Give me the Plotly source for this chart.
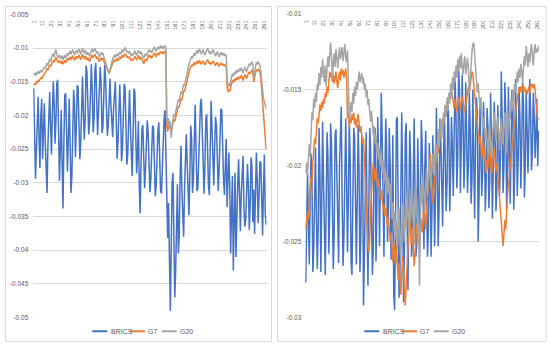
import plotly.graph_objects as go

# ---------------- data (values in thousandths, i.e. -14.0 means -0.0140) ----------------
CATEGORIES = list(range(1, 264))
X_TICK_VALUES = [1, 11, 21, 31, 41, 51, 61, 71, 81, 91, 101, 111, 121, 131, 141, 151,
                 161, 171, 181, 191, 201, 211, 221, 231, 241, 251, 261]
X_TICK_LABELS = [str(v) for v in X_TICK_VALUES]

LEFT_Y_TICKS = [-0.05, -0.045, -0.04, -0.035, -0.03, -0.025, -0.02, -0.015, -0.01, -0.005]
LEFT_Y_LABELS = ["-0.05", "-0.045", "-0.04", "-0.035", "-0.03", "-0.025", "-0.02", "-0.015", "-0.01", "-0.005"]
RIGHT_Y_TICKS = [-0.03, -0.025, -0.02, -0.015, -0.01]
RIGHT_Y_LABELS = ["-0.03", "-0.025", "-0.02", "-0.015", "-0.01"]

SERIES_NAMES = ["BRICS", "G7", "G20"]
SERIES_COLORS = ["#4472C4", "#ED7D31", "#A5A5A5"]

LEFT_BRICS = [
    -16.0, -21.0, -29.4, -25.0, -18.5, -17.2, -23.5, -27.8, -20.0, -17.5,
    -26.5, -22.0, -18.2, -24.0, -29.0, -31.5, -24.5, -19.0, -16.5, -21.5,
    -25.8, -20.0, -14.9, -18.0, -24.2, -21.0, -15.2, -14.7, -20.5, -29.7,
    -25.0, -19.2, -27.0, -33.8, -24.0, -17.0, -16.7, -22.5, -28.3, -23.5,
    -17.5, -24.0, -31.5, -29.0, -21.5, -16.2, -18.5, -26.2, -22.0, -15.5,
    -15.8, -21.4, -26.5, -24.0, -17.0, -14.2, -19.5, -23.6, -20.5, -12.6,
    -13.5, -18.0, -22.8, -21.0, -15.0, -12.4, -16.5, -22.5, -20.6, -13.2,
    -12.2, -17.8, -22.9, -19.5, -14.5, -12.8, -15.5, -22.6, -21.7, -16.0,
    -12.5, -14.6, -19.8, -23.0, -21.5, -17.2, -14.5, -18.4, -22.4, -23.2,
    -19.0, -15.8, -15.0, -20.5, -26.4, -24.0, -18.5, -15.4, -19.7, -26.8,
    -25.0, -18.0, -15.3, -15.9, -22.0, -27.3, -25.8, -20.5, -16.2, -21.6,
    -26.9, -29.0, -23.0, -16.0, -16.5, -24.2, -28.6, -26.0, -20.8, -30.5,
    -34.5, -27.0, -22.0, -21.4, -25.2, -30.8, -28.0, -23.5, -20.7, -22.6,
    -27.6, -31.4, -29.5, -24.0, -21.5, -21.8, -26.5, -32.0, -30.5, -25.8,
    -22.3, -21.0, -26.0, -31.2, -31.6, -27.5, -22.0, -20.4, -19.2, -24.8,
    -30.5, -38.2, -33.0, -44.5, -49.0, -40.0, -30.0, -28.5, -36.0, -47.0,
    -43.0, -35.0, -30.2, -40.5, -38.0, -29.5, -24.5, -31.0, -35.8, -38.0,
    -31.0, -24.5, -22.8, -27.0, -33.2, -34.8, -29.0, -21.5, -23.5, -31.5,
    -29.5, -22.0, -18.4, -24.6, -31.2, -30.8, -25.0, -20.5, -18.2, -17.5,
    -23.0, -28.0, -31.6, -27.5, -20.5, -19.8, -25.4, -30.5, -31.8, -26.0,
    -17.8, -22.0, -27.8, -30.4, -24.5, -20.2, -21.5, -28.6, -31.2, -28.0,
    -22.4, -19.0, -19.2, -26.0, -29.5, -31.8, -27.0, -23.5, -33.6, -28.8,
    -25.5, -30.5, -40.5, -34.2, -29.0, -43.0, -36.5, -28.5, -41.0, -33.5,
    -30.0, -26.5, -34.8, -37.2, -31.5, -28.0, -26.0, -33.8, -36.5, -35.5,
    -29.0, -27.2, -30.5, -37.0, -33.5, -26.2, -27.5, -35.8, -31.0, -37.6,
    -31.5, -25.5, -29.8, -36.0, -32.0, -26.8, -27.0, -35.2, -37.8, -31.0,
    -25.8, -34.5, -36.2,
]
LEFT_G7 = [
    -15.5, -15.3, -15.4, -15.0, -15.1, -14.8, -14.9, -14.6, -14.4, -14.5,
    -14.3, -14.1, -13.9, -13.8, -13.4, -13.1, -13.2, -12.8, -12.5, -12.7,
    -12.3, -12.0, -11.8, -12.1, -11.6, -11.3, -11.7, -12.0, -12.2, -11.8,
    -12.0, -12.3, -11.9, -12.4, -12.1, -11.8, -12.2, -11.9, -11.5, -11.8,
    -11.6, -11.3, -11.7, -11.4, -11.1, -11.5, -11.8, -11.4, -11.2, -11.6,
    -11.3, -11.0, -11.4, -11.7, -11.3, -10.9, -11.3, -11.6, -11.2, -11.5,
    -11.8, -11.4, -11.7, -12.0, -11.6, -11.2, -11.0, -11.4, -11.1, -10.9,
    -11.2, -11.6, -11.3, -11.7, -12.0, -11.7, -11.4, -11.8, -11.5, -11.9,
    -12.2, -12.5, -12.9, -13.3, -13.6, -13.8, -13.4, -12.9, -12.5, -12.2,
    -12.0, -11.7, -12.0, -11.8, -11.5, -11.9, -11.6, -11.3, -11.6, -11.3,
    -11.0, -11.4, -11.1, -10.8, -11.0, -11.4, -11.2, -11.5, -11.3, -11.6,
    -11.9, -11.6, -11.8, -11.5, -11.2, -11.5, -11.8, -11.5, -11.1, -11.4,
    -11.7, -11.3, -11.6, -12.0, -12.3, -11.9, -11.6, -11.9, -11.7, -11.3,
    -11.0, -11.4, -11.1, -11.5, -11.2, -10.9, -10.7, -11.0, -11.3, -10.9,
    -10.7, -11.0, -10.7, -10.5, -10.8, -10.5, -10.9, -10.6, -10.4, -10.7,
    -21.5, -22.4, -21.3, -22.0, -21.6, -22.2, -21.8, -21.0, -20.6, -20.9,
    -20.3, -19.7, -19.1, -18.6, -18.8, -18.1, -17.5, -17.7, -16.9, -16.3,
    -16.5, -15.8, -15.2, -14.7, -14.1, -13.6, -13.1, -12.8, -12.5, -12.7,
    -12.4, -12.1, -12.5, -12.2, -11.9, -12.3, -12.0, -11.8, -12.2, -12.4,
    -12.1, -11.9, -12.2, -12.5, -12.2, -11.9, -11.7, -12.0, -12.3, -12.1,
    -12.4, -12.2, -11.9, -12.1, -12.4, -12.6, -12.3, -12.1, -12.4, -12.7,
    -12.4, -12.2, -12.5, -12.3, -12.6, -12.4, -12.7, -12.5, -15.6, -16.5,
    -16.2, -16.4, -15.8, -15.3, -14.8, -15.1, -14.6, -14.9, -14.4, -14.7,
    -14.3, -14.6, -14.2, -14.5, -14.0, -14.4, -14.8, -14.3, -13.9, -14.2,
    -14.5, -14.1, -13.8, -13.5, -13.8, -13.4, -13.2, -13.5, -15.0, -14.3,
    -13.5, -13.2, -13.4, -13.1, -13.3, -13.6, -14.5, -16.5, -18.5, -20.6,
    -22.4, -23.8, -25.0,
]
LEFT_G20 = [
    -14.0, -13.7, -14.1, -13.6, -13.9, -13.4, -13.8, -13.5, -13.3, -13.6,
    -13.4, -13.1, -12.8, -13.0, -12.5, -12.2, -12.6, -11.9, -11.6, -12.0,
    -11.4, -11.0, -10.8, -11.3, -10.6, -10.2, -10.9, -11.2, -11.5, -11.0,
    -11.3, -11.6, -11.1, -11.8, -11.4, -11.0, -11.5, -11.2, -10.7, -11.1,
    -10.8, -10.4, -10.9, -10.5, -10.2, -10.7, -11.0, -10.6, -10.3, -10.8,
    -10.5, -10.1, -10.6, -10.9, -10.4, -10.0, -10.5, -10.8, -10.3, -10.7,
    -11.0, -10.6, -10.9, -11.2, -10.8, -10.4, -10.1, -10.6, -10.3, -10.0,
    -10.4, -10.8, -10.5, -10.9, -11.3, -10.9, -10.6, -11.0, -10.7, -11.2,
    -11.6, -11.9, -12.4, -13.0, -13.5, -13.8, -13.2, -12.5, -12.0, -11.6,
    -11.3, -11.0, -11.4, -11.1, -10.8, -11.2, -10.9, -10.6, -10.9, -10.5,
    -10.2, -10.6, -10.3, -9.9, -10.2, -10.6, -10.4, -10.8, -10.5, -10.9,
    -11.2, -10.8, -11.1, -10.7, -10.4, -10.8, -11.1, -10.7, -10.3, -10.6,
    -10.9, -10.5, -10.8, -11.2, -11.5, -11.1, -10.8, -11.2, -10.9, -10.5,
    -10.2, -10.6, -10.3, -10.7, -10.4, -10.1, -9.8, -10.2, -10.5, -10.1,
    -9.8, -10.2, -9.9, -9.6, -10.0, -9.7, -10.1, -9.8, -9.6, -9.9,
    -20.5, -21.2, -20.4, -21.8, -20.9, -23.3, -21.5, -20.6, -19.8, -20.2,
    -19.5, -18.8, -18.2, -17.6, -17.9, -17.1, -16.5, -16.8, -15.9, -15.3,
    -15.6, -14.8, -14.2, -13.6, -13.0, -12.4, -11.9, -11.6, -11.2, -11.5,
    -11.0, -10.7, -11.1, -10.6, -10.3, -10.8, -10.4, -10.1, -10.6, -10.9,
    -10.5, -10.2, -10.7, -11.0, -10.6, -10.3, -10.0, -10.4, -10.8, -10.5,
    -10.9, -10.6, -10.2, -10.5, -10.9, -11.2, -10.8, -10.5, -10.9, -11.3,
    -10.9, -10.6, -11.0, -10.7, -11.1, -10.8, -11.2, -11.0, -14.8, -15.8,
    -15.2, -15.6, -14.9, -14.4, -13.8, -14.2, -13.6, -13.9, -13.3, -13.7,
    -13.2, -13.5, -13.0, -13.4, -12.9, -13.3, -13.7, -13.2, -12.8, -13.1,
    -13.5, -13.0, -12.7, -12.3, -12.6, -12.2, -12.0, -12.4, -14.6, -13.5,
    -12.5, -12.1, -12.4, -12.0, -12.3, -12.6, -13.5, -15.2, -16.8, -17.5,
    -17.9, -18.4, -19.0,
]

RIGHT_BRICS = [
    -27.7, -24.0, -20.5, -23.5, -26.5, -22.0, -19.2, -21.0, -27.0, -25.5,
    -20.0, -18.8, -23.5, -26.8, -24.0, -17.5, -20.5, -27.0, -22.5, -17.1,
    -21.0, -26.2, -27.2, -22.5, -17.8, -19.5, -25.8, -23.0, -17.2, -18.5,
    -22.8, -26.8, -24.5, -18.0, -17.6, -21.5, -25.2, -26.4, -20.0, -16.8,
    -16.1, -22.5, -26.6, -24.5, -18.0, -16.9, -21.2, -25.7, -22.0, -17.0,
    -19.5, -26.3, -27.2, -21.8, -17.5, -18.2, -23.0, -26.5, -22.0, -17.3,
    -20.5, -27.0, -24.5, -18.0, -19.5, -29.2, -26.0, -21.0, -17.8, -23.5,
    -27.9, -22.5, -17.5, -19.0, -24.0, -27.2, -25.5, -18.2, -17.5, -26.3,
    -23.0, -16.8, -19.5, -25.3, -20.5, -15.2, -18.0, -24.0, -26.0, -21.0,
    -16.9, -19.0, -25.0, -22.5, -17.5, -20.0, -26.2, -23.5, -18.0, -28.5,
    -29.5, -24.0, -17.0, -16.8, -22.5, -28.7, -27.0, -19.5, -16.5, -21.0,
    -29.0, -25.5, -18.0, -17.2, -24.0, -28.2, -22.5, -17.7, -19.5, -26.0,
    -25.0, -19.0, -16.9, -22.0, -26.0, -24.8, -18.2, -21.0, -25.7, -23.5,
    -17.0, -18.6, -24.5, -25.5, -20.0, -17.7, -22.5, -26.0, -24.2, -18.5,
    -20.5, -26.0, -23.0, -18.0, -21.5, -25.3, -22.0, -16.2, -19.5, -25.3,
    -23.0, -16.9, -18.5, -22.5, -24.0, -19.5, -16.5, -20.0, -23.0, -21.0,
    -15.5, -17.5, -23.0, -20.5, -16.8, -19.0, -22.0, -18.0, -14.2, -16.5,
    -21.5, -19.5, -13.7, -15.0, -21.8, -18.5, -14.0, -17.0, -21.5, -19.0,
    -14.5, -18.0, -21.8, -20.0, -15.2, -17.5, -22.5, -21.0, -15.0, -19.5,
    -23.5, -18.5, -15.5, -16.5, -25.0, -22.0, -16.0, -19.0, -22.0, -20.5,
    -15.8, -18.0, -23.0, -21.0, -16.2, -17.5, -22.8, -21.0, -15.2, -19.0,
    -23.5, -20.0, -15.8, -17.5, -23.0, -21.5, -16.0, -18.0, -22.0, -19.5,
    -13.8, -17.0, -21.8, -20.0, -14.5, -16.5, -22.9, -21.0, -14.8, -18.5,
    -22.5, -19.0, -15.0, -16.0, -22.9, -20.5, -14.3, -17.5, -22.0, -19.5,
    -14.8, -17.0, -21.5, -18.5, -14.5, -16.0, -22.1, -20.0, -15.0, -17.5,
    -20.5, -18.0, -14.3, -16.5, -20.3, -19.0, -15.2, -16.5, -19.5, -18.0,
    -15.6, -20.0, -17.7,
]
RIGHT_G7 = [
    -24.2, -23.6, -23.0, -23.5, -22.2, -21.5, -20.8, -21.0, -19.8, -19.0,
    -18.2, -18.6, -17.5, -16.9, -17.2, -16.5, -16.0, -16.4, -15.8, -16.2,
    -15.6, -15.9, -15.2, -15.5, -14.8, -15.2, -14.5, -13.8, -14.2, -13.9,
    -14.5, -14.0, -14.6, -14.2, -13.8, -14.5, -14.9, -14.2, -13.8, -14.4,
    -13.6, -14.0, -13.7, -14.2, -13.8, -13.6, -14.4, -16.9, -16.5, -17.5,
    -16.8, -17.2, -16.6, -17.0, -16.5, -17.3, -16.9, -17.5, -17.0, -16.6,
    -17.2, -17.8, -17.4, -18.0, -18.6, -18.2, -19.5, -20.8, -22.5, -24.2,
    -25.2, -25.7, -24.8, -23.0, -21.5, -20.6, -19.8, -20.4, -21.0, -20.2,
    -20.8, -21.4, -20.9, -21.6, -22.2, -21.6, -22.4, -23.0, -22.6, -23.3,
    -22.8, -23.5, -24.0, -23.4, -24.2, -25.0, -24.4, -25.5, -26.3, -25.0,
    -25.8, -26.5, -25.2, -26.8, -27.5, -26.4, -27.6, -28.5, -27.2, -26.0,
    -27.0, -28.2, -29.2, -27.8, -26.2, -25.0, -24.2, -23.5, -24.5, -25.2,
    -24.0, -25.5, -26.6, -25.8, -24.5, -23.8, -24.6, -25.5, -25.0, -24.2,
    -23.5, -24.4, -23.8, -22.6, -23.5, -24.2, -23.0, -22.0, -21.2, -20.0,
    -19.2, -20.5, -21.8, -22.5, -21.6, -20.8, -20.0, -19.5, -18.8, -19.2,
    -18.5, -17.8, -18.2, -17.5, -16.9, -17.2, -16.5, -16.0, -16.3, -15.8,
    -15.5, -15.9, -15.2, -15.6, -15.0, -15.4, -15.8, -16.2, -15.6, -16.0,
    -16.5, -16.0, -15.5, -15.8, -16.3, -15.9, -15.4, -15.8, -16.2, -16.5,
    -16.0, -15.5, -15.2, -14.8, -15.2, -14.6, -14.2, -13.8, -14.0, -14.6,
    -15.2, -15.8, -16.5, -17.2, -17.8, -18.5, -18.0, -18.8, -19.5, -19.0,
    -18.4, -19.2, -19.8, -20.5, -19.6, -20.2, -19.0, -18.5, -19.4, -20.6,
    -20.0, -19.2, -18.8, -19.6, -20.4, -19.8, -20.6, -21.5, -22.6, -23.5,
    -24.2, -24.8, -25.3, -24.5, -23.6, -24.2, -22.8, -22.0, -21.2, -20.8,
    -20.0, -19.4, -18.6, -18.0, -17.5, -17.1, -16.5, -16.0, -15.6, -15.2,
    -14.9, -15.2, -14.8, -15.1, -14.7, -15.0, -14.8, -15.2, -15.0, -15.3,
    -15.0, -14.8, -15.2, -14.9, -14.6, -14.7, -14.9, -14.6, -15.0, -15.8,
    -16.5, -17.0, -16.9,
]
RIGHT_G20 = [
    -20.5, -19.8, -20.6, -19.0, -18.6, -19.4, -17.6, -16.5, -17.0, -15.6,
    -16.2, -15.2, -15.8, -14.6, -15.0, -13.9, -14.7, -13.5, -14.2, -13.0,
    -13.8, -14.5, -13.4, -14.8, -13.6, -12.8, -13.5, -12.4, -11.9, -12.8,
    -14.3, -13.2, -12.6, -13.5, -12.3, -12.9, -13.6, -12.8, -12.2, -13.0,
    -12.6, -12.2, -13.1, -12.5, -12.0, -12.9, -13.2, -12.4, -15.8, -17.0,
    -16.4, -15.8, -16.5, -15.2, -15.9, -14.8, -15.4, -14.5, -15.0, -14.2,
    -13.8, -14.5, -14.0, -13.9, -14.6, -14.2, -15.0, -14.6, -15.5, -15.0,
    -16.0, -15.6, -16.5, -17.1, -16.4, -17.5, -18.0, -17.4, -18.6, -18.0,
    -19.2, -18.5, -19.6, -18.8, -20.0, -19.2, -20.5, -19.6, -21.0, -20.2,
    -21.4, -20.5, -21.8, -20.8, -22.0, -21.2, -22.5, -23.5, -22.4, -24.2,
    -23.0, -24.8, -23.6, -25.5, -24.2, -22.8, -24.5, -26.3, -24.0, -22.5,
    -23.8, -25.0, -22.6, -24.0, -21.8, -23.2, -24.6, -22.2, -23.5, -21.5,
    -22.8, -24.0, -25.2, -23.0, -21.4, -22.6, -24.5, -24.0, -27.9, -22.5,
    -21.2, -22.5, -20.6, -21.8, -23.0, -21.4, -20.2, -22.0, -20.8, -19.6,
    -20.5, -21.6, -20.0, -19.2, -20.6, -19.5, -18.6, -19.8, -18.4, -17.6,
    -18.8, -17.8, -17.0, -18.2, -17.4, -16.5, -17.2, -16.0, -16.8, -15.6,
    -16.4, -15.2, -15.9, -14.6, -15.5, -14.2, -15.0, -13.8, -14.5, -13.4,
    -14.2, -13.0, -13.8, -12.8, -13.6, -12.6, -13.5, -14.0, -13.2, -12.8,
    -14.0, -13.4, -12.9, -13.6, -15.2, -14.4, -13.2, -12.5, -12.0, -11.9,
    -12.6, -13.8, -14.5, -15.2, -14.6, -15.8, -16.2, -15.5, -16.9, -17.5,
    -16.8, -17.8, -18.4, -17.5, -18.8, -19.2, -18.0, -17.2, -18.5, -19.5,
    -18.2, -17.0, -16.5, -17.6, -18.4, -17.2, -16.8, -18.0, -19.0, -17.8,
    -16.9, -17.8, -18.6, -17.5, -16.5, -17.9, -19.2, -18.2, -17.0, -16.4,
    -16.9, -15.6, -16.4, -15.0, -15.8, -14.6, -15.2, -14.2, -13.8, -14.5,
    -13.6, -14.2, -13.3, -13.8, -14.5, -13.5, -12.8, -13.4, -12.1, -12.7,
    -13.5, -12.6, -13.2, -12.4, -12.0, -12.8, -13.4, -12.5, -12.0, -12.6,
    -12.3, -12.5, -12.1,
]

LEFT_SERIES = [LEFT_BRICS, LEFT_G7, LEFT_G20]
RIGHT_SERIES = [RIGHT_BRICS, RIGHT_G7, RIGHT_G20]
for s in LEFT_SERIES + RIGHT_SERIES:
    assert len(s) == len(CATEGORIES), len(s)

# ---------------- layout helpers (pixel -> paper) ----------------
W, H = 550, 348
def px(x):
    return x / W
def py(y):
    return 1 - y / H

FONT = "Liberation Sans"
TXT = "#595959"
GRID = "#D9D9D9"

fig = go.Figure()
for vals, name, col in zip(LEFT_SERIES, SERIES_NAMES, SERIES_COLORS):
    fig.add_trace(go.Scatter(x=CATEGORIES, y=[v / 1000 for v in vals], mode="lines", name=name,
                             line=dict(color=col, width=1.5), xaxis="x", yaxis="y", showlegend=False))
for vals, name, col in zip(RIGHT_SERIES, SERIES_NAMES, SERIES_COLORS):
    fig.add_trace(go.Scatter(x=CATEGORIES, y=[v / 1000 for v in vals], mode="lines", name=name,
                             line=dict(color=col, width=1.5), xaxis="x2", yaxis="y2", showlegend=False))

xcommon = dict(type="linear", range=[0.5, 263.5], tickmode="array", tickvals=X_TICK_VALUES,
               ticktext=X_TICK_LABELS, side="top", ticklabelposition="inside", tickangle=-90,
               ticklabeloverflow="allow", showgrid=False, zeroline=False, showline=False,
               ticks="", tickfont=dict(family=FONT, size=5.5, color=TXT))
ycommon = dict(tickmode="array", showgrid=True, gridcolor=GRID, gridwidth=1, zeroline=False,
               showline=False, ticks="", tickfont=dict(family=FONT, size=6.5, color=TXT))

fig.update_layout(
    width=W, height=H, margin=dict(l=0, r=0, t=0, b=0),
    paper_bgcolor="white", plot_bgcolor="white",
    xaxis=dict(domain=[px(30.5), px(265.5)], anchor="y", **xcommon),
    yaxis=dict(domain=[py(320), py(10.7)], anchor="x", range=[-0.05, -0.005],
               tickvals=LEFT_Y_TICKS, ticktext=LEFT_Y_LABELS, ticklabelstandoff=4, **ycommon),
    xaxis2=dict(domain=[px(304.5), px(540)], anchor="y2", **xcommon),
    yaxis2=dict(domain=[py(320), py(10)], anchor="x2", range=[-0.03, -0.01],
                tickvals=RIGHT_Y_TICKS, ticktext=RIGHT_Y_LABELS, ticklabelstandoff=3, **ycommon),
)

shapes = []
annotations = []
# panel borders
for x0, x1 in [(2.5, 270.5), (276.5, 547)]:
    shapes.append(dict(type="rect", xref="paper", yref="paper", x0=px(x0), x1=px(x1),
                       y0=py(344.5), y1=py(2.5), line=dict(color=GRID, width=1), layer="below"))
# hand-placed legends (one per panel)
LEG_Y = 334
for ox in [90, 364]:
    for (dx, name, col) in zip([0, 38, 70], SERIES_NAMES, SERIES_COLORS):
        shapes.append(dict(type="line", xref="paper", yref="paper", x0=px(ox + dx), x1=px(ox + dx + 15),
                           y0=py(LEG_Y), y1=py(LEG_Y), line=dict(color=col, width=2)))
        annotations.append(dict(xref="paper", yref="paper", x=px(ox + dx + 16.5), y=py(LEG_Y),
                                text=name, showarrow=False, xanchor="left", yanchor="middle",
                                font=dict(family=FONT, size=7, color=TXT)))
fig.update_layout(shapes=shapes, annotations=annotations)

fig.write_html("out.html", config={"displayModeBar": False},
               post_script="document.body.style.margin='0';document.body.style.overflow='hidden';")
